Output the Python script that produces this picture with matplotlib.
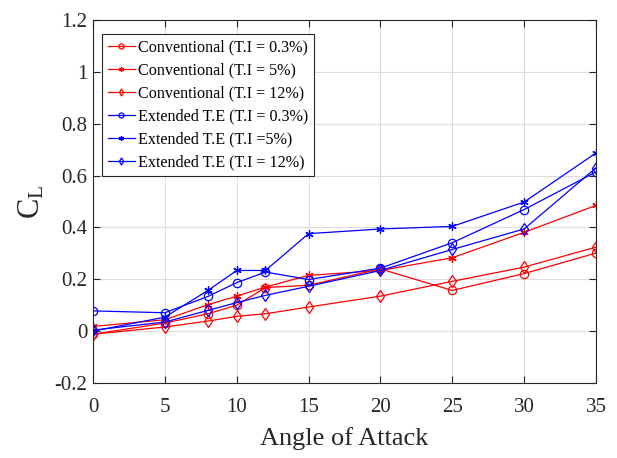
import matplotlib

matplotlib.use("Agg")
import matplotlib.pyplot as plt

plt.rcParams["font.family"] = ["Liberation Serif", "DejaVu Serif"]
plt.rcParams["mathtext.fontset"] = "custom"
plt.rcParams["mathtext.rm"] = "Liberation Serif"
plt.rcParams["mathtext.it"] = "Liberation Serif"

angles = [0, 5, 8, 10, 12, 15, 20, 25, 30, 35]

conv_03 = [-0.012, 0.031, 0.067, 0.100, 0.168, 0.177, 0.240, 0.157, 0.222, 0.301]
conv_5 = [0.018, 0.044, 0.102, 0.135, 0.170, 0.215, 0.234, 0.283, 0.381, 0.485]
conv_12 = [-0.012, 0.016, 0.039, 0.057, 0.067, 0.093, 0.135, 0.192, 0.247, 0.324]
ext_03 = [0.078, 0.071, 0.134, 0.187, 0.228, 0.199, 0.243, 0.341, 0.469, 0.614]
ext_5 = [0.000, 0.054, 0.157, 0.234, 0.234, 0.376, 0.394, 0.404, 0.498, 0.687]
ext_12 = [0.004, 0.035, 0.080, 0.110, 0.138, 0.173, 0.234, 0.315, 0.394, 0.630]

labels = [
    "Conventional (T.I = 0.3%)",
    "Conventional (T.I = 5%)",
    "Conventional (T.I = 12%)",
    "Extended T.E (T.I = 0.3%)",
    "Extended T.E (T.I =5%)",
    "Extended T.E (T.I = 12%)",
]

asterisk = (6, 2, 0)
series = [
    (conv_03, "#ff0000", "o"),
    (conv_5, "#ff0000", asterisk),
    (conv_12, "#ff0000", "d"),
    (ext_03, "#0000ff", "o"),
    (ext_5, "#0000ff", asterisk),
    (ext_12, "#0000ff", "d"),
]

fig = plt.figure(figsize=(6.17, 4.58), dpi=100)
ax = fig.add_axes([93 / 617, 1 - 383 / 458, 503 / 617, 363 / 458])

for (vals, col, mk), lab in zip(series, labels):
    ax.plot(angles, vals, color=col, marker=mk, markersize=6,
            markerfacecolor="none", markeredgecolor=col, markeredgewidth=0.9,
            linewidth=0.9, label=lab)

ax.set_xlim(0, 35)
ax.set_ylim(-0.2, 1.2)
ax.set_xticks([0, 5, 10, 15, 20, 25, 30, 35])
ax.set_yticks([-0.2, 0, 0.2, 0.4, 0.6, 0.8, 1.0, 1.2])
ax.set_yticklabels(["-0.2", "0", "0.2", "0.4", "0.6", "0.8", "1", "1.2"])
ax.grid(True, color="#dcdcdc", linewidth=0.8)
ax.set_axisbelow(True)
ax.tick_params(direction="in", top=True, right=True, labelsize=15,
               length=5, width=0.8, colors="#262626")
ax.tick_params(axis="x", pad=11)
ax.tick_params(axis="y", pad=4)
for sp in ax.spines.values():
    sp.set_color("#262626")
    sp.set_linewidth(0.8)

ax.set_xlabel("Angle of Attack", fontsize=19, color="#262626", labelpad=7)
ax.set_ylabel(r"C$_{\mathrm{L}}$", fontsize=22, color="#262626", labelpad=6)

leg = ax.legend(loc="upper left", bbox_to_anchor=(0.018, 0.961), borderaxespad=0,
                fontsize=11.6, handlelength=1.7, handletextpad=0.2,
                borderpad=0.35, labelspacing=0.43, fancybox=False,
                framealpha=1, markerscale=0.6)
leg.get_frame().set_edgecolor("#262626")
leg.get_frame().set_linewidth(0.8)

fig.savefig("out.png", dpi=100)
